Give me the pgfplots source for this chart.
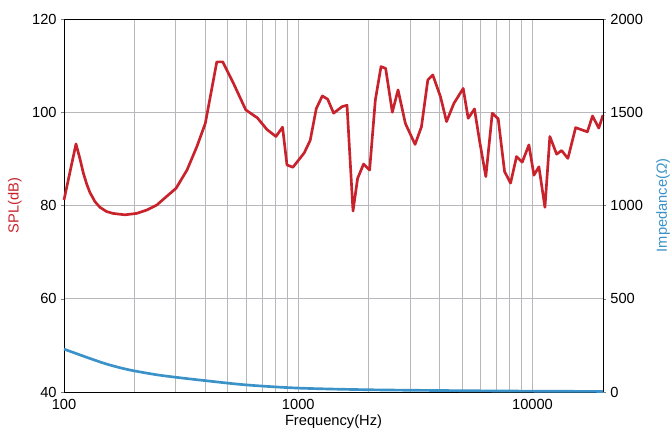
\documentclass[border=0pt]{standalone}
\usepackage{fontspec}
\setmainfont{Liberation Sans}
\usepackage{pgfplots}
\pgfplotsset{compat=1.18}
\definecolor{splred}{HTML}{C8232C}
\definecolor{impblue}{HTML}{3A92C8}
\definecolor{gridgray}{HTML}{B8B8BC}

\begin{document}
\begin{tikzpicture}
\useasboundingbox (-48pt,-32.25pt) rectangle (455.25pt,294pt);
\pgfplotsset{
    every axis/.append style={
        scale only axis,
        width=404.25pt,
        height=279.75pt,
        xmode=log,
        xmin=100, xmax=20000,
        font=\fontsize{11}{13}\selectfont,
        /pgf/number format/assume math mode=true,
        tick align=outside,
        major tick length=2pt,
        axis line style={black, line width=0.6pt},
    }
}
\begin{axis}[
    ymin=40, ymax=120,
    ytick={40,60,80,100,120},
    xtick={100,1000,10000},
    xticklabels={100,1000,10000},
    minor xtick={200,300,400,500,600,700,800,900,2000,3000,4000,5000,6000,7000,8000,9000},
    grid=both,
    major grid style={gridgray, line width=0.6pt},
    minor grid style={gridgray, line width=0.6pt},
    x tick style={draw=none},
    minor tick length=0pt,
    xlabel={Frequency(Hz)},
    ylabel={\textcolor{splred}{SPL(dB)}},
    xlabel style={yshift=3pt},
    ylabel style={yshift=1pt},
    axis y line*=left,
    axis x line*=bottom,
    clip=false,
]
\draw[black, line width=0.6pt] (rel axis cs:0,1) -- (rel axis cs:1,1);
\addplot[splred, line width=2pt, line join=round] coordinates {
    (100,81.2) (112.5,93.2) (117,90.0) (121,86.9) (125,84.6) (129,82.8)
    (135.7,80.8) (142.5,79.6) (152,78.7) (162,78.3)
    (182,78.0) (204,78.3) (225,79.0) (249,80.1) (275,82.0) (301,83.7)
    (335,87.6) (369,92.6) (401,97.6) (449,110.8) (476,110.8) (529,106.2)
    (597,100.5) (669,98.8) (735,96.3) (803,94.8) (857,96.8) (895,88.7)
    (949,88.2) (1061,91.3) (1125,94.0) (1194,100.8) (1267,103.5) (1335,102.8)
    (1416,99.8) (1538,101.2) (1615,101.5) (1713,78.8) (1792,85.8) (1901,88.9)
    (2017,87.6) (2133,102.6) (2256,109.8) (2361,109.4) (2521,100.0) (2667,104.8)
    (2866,97.6) (3153,93.1) (3357,96.9) (3573,106.9) (3753,108.0) (4049,103.3)
    (4296,98.0) (4617,101.9) (5060,105.1) (5314,98.7) (5653,100.7) (5936,94.0)
    (6321,86.2) (6734,99.8) (7138,98.6) (7598,87.3) (8060,84.8) (8548,90.5)
    (9039,89.3) (9653,93.0) (10140,86.5) (10650,88.3) (11300,79.6) (11860,94.8)
    (12680,91.0) (13310,91.8) (14160,90.1) (15280,96.7) (17150,95.8) (18040,99.2)
    (19190,96.6) (20000,99.4)
};
\end{axis}
\begin{axis}[
    ymin=0, ymax=2000,
    ytick={0,500,1000,1500,2000},
    axis y line*=right,
    axis x line=none,
    ylabel={\textcolor{impblue}{Impedance(\textit{Ω})}},
    ylabel style={yshift=-3pt},
    yticklabel style={/pgf/number format/.cd, fixed, 1000 sep={}},
    clip=false,
]
\addplot[impblue, line width=2pt, smooth] coordinates {
    (100,230) (125,186) (150,152) (175,129) (200,113) (250,92) (300,79)
    (400,61) (600,38) (1000,21) (2000,12) (5000,7) (10000,4.5) (20000,3)
};
\end{axis}
\end{tikzpicture}
\end{document}
